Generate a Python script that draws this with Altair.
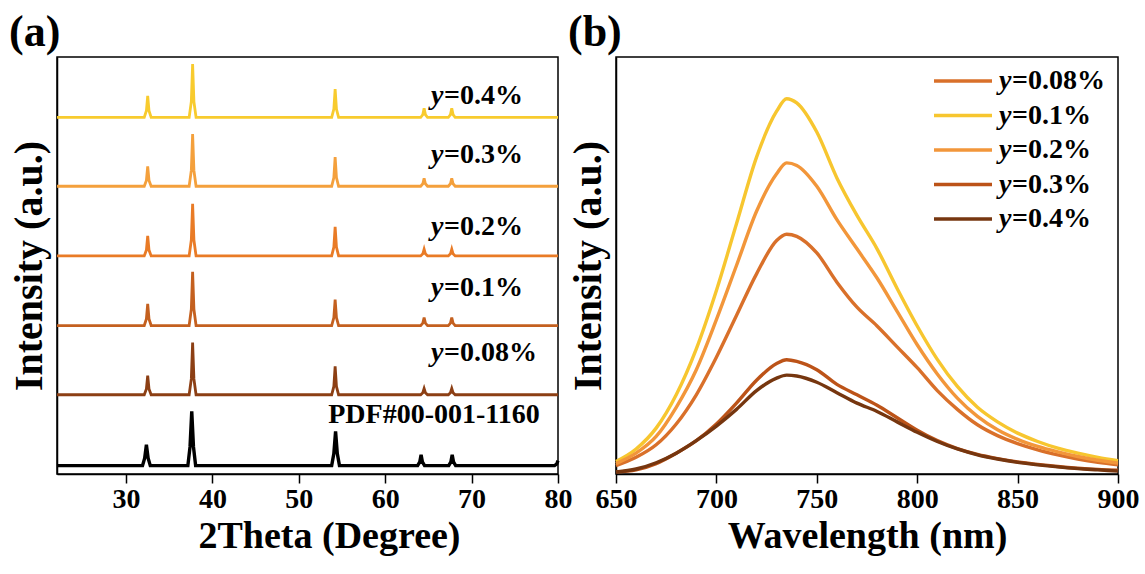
import altair as alt
import pandas as pd

FONT = "Liberation Serif"

# ---------------- (a) XRD patterns ----------------
xrd_series = ["0.08%", "0.1%", "0.2%", "0.3%", "0.4%"]
xrd_colors = ["#8C3F14", "#C4601F", "#E97B26", "#F4A03C", "#F8CB2E"]
# vertical stacking of each pattern (PDF card first, then samples)
pdf_offset = 2.0
xrd_offsets = [19.0, 35.6, 52.3, 69.0, 85.5]

two_theta = [22.0, 32.1, 32.35, 32.5, 32.65, 32.9, 37.3, 37.55, 37.7, 37.85, 38.1,
             53.8, 54.05, 54.2, 54.35, 54.6, 64.1, 64.35, 64.5, 64.65, 64.9,
             67.3, 67.55, 67.7, 67.85, 68.1, 80.0]
xrd_008 = [0, 0, 1.4, 4.6, 1.4, 0, 0, 3.8, 12.5, 3.8, 0, 0, 2.0, 6.8, 2.0, 0,
           0, 0.5, 1.5, 0.5, 0, 0, 0.5, 1.5, 0.5, 0, 0]
xrd_01 = [0, 0, 1.6, 5.2, 1.6, 0, 0, 3.9, 12.9, 3.9, 0, 0, 1.9, 6.2, 1.9, 0,
          0, 0.6, 1.9, 0.6, 0, 0, 0.6, 1.9, 0.6, 0, 0]
xrd_02 = [0, 0, 1.4, 4.8, 1.4, 0, 0, 3.8, 12.5, 3.8, 0, 0, 2.1, 7.0, 2.1, 0,
          0, 0.5, 1.6, 0.5, 0, 0, 0.5, 1.6, 0.5, 0, 0]
xrd_03 = [0, 0, 1.4, 4.8, 1.4, 0, 0, 3.8, 12.5, 3.8, 0, 0, 2.1, 7.0, 2.1, 0,
          0, 0.6, 1.9, 0.6, 0, 0, 0.6, 1.9, 0.6, 0, 0]
xrd_04 = [0, 0, 1.6, 5.2, 1.6, 0, 0, 3.8, 12.8, 3.8, 0, 0, 2.0, 6.8, 2.0, 0,
          0, 0.7, 2.2, 0.7, 0, 0, 0.7, 2.2, 0.7, 0, 0]

pdf_theta = [22.0, 31.9, 32.15, 32.35, 32.55, 32.8, 37.15, 37.4, 37.6, 37.8, 38.05,
             53.8, 54.05, 54.25, 54.45, 54.7, 63.75, 64.0, 64.15, 64.3, 64.55,
             67.35, 67.6, 67.75, 67.9, 68.15, 79.6, 79.85, 80.0]
pdf_int = [0, 0, 1.8, 5.0, 1.8, 0, 0, 4.5, 13.0, 4.5, 0, 0, 2.9, 8.2, 2.9, 0,
           0, 0.9, 2.6, 0.9, 0, 0, 0.9, 2.6, 0.9, 0, 0, 0.4, 1.2]

xrd_values = [xrd_008, xrd_01, xrd_02, xrd_03, xrd_04]
rows = []
for name, vals, off in zip(xrd_series, xrd_values, xrd_offsets):
    for t, v in zip(two_theta, vals):
        rows.append({"two_theta": t, "intensity": v + off, "sample": name})
xrd_df = pd.DataFrame(rows)
pdf_df = pd.DataFrame({"two_theta": pdf_theta,
                       "intensity": [v + pdf_offset for v in pdf_int]})

# label anchors beside each pattern
xrd_label_y = [28.9, 44.7, 59.3, 76.6, 90.7]
xrd_lab_df = pd.DataFrame({"two_theta": [65.3] * 5, "intensity": xrd_label_y,
                           "rest": ["=" + s for s in xrd_series]})
pdf_lab_df = pd.DataFrame({"two_theta": [53.4], "intensity": [14.1],
                           "text": ["PDF#00-001-1160"]})

xa = alt.X("two_theta:Q",
           scale=alt.Scale(domain=[22, 80], nice=False, zero=False),
           axis=alt.Axis(values=[30, 40, 50, 60, 70, 80], title="2Theta (Degree)",
                         labelFlush=False, titlePadding=4, titleX=272))
ya = alt.Y("intensity:Q", scale=alt.Scale(domain=[0, 100], nice=False),
           axis=alt.Axis(title="Intensity (a.u.)", labels=False, ticks=False,
                         titlePadding=8, titleFontSize=40))

xrd_lines = alt.Chart(xrd_df).mark_line(strokeWidth=2.8).encode(
    x=xa, y=ya,
    color=alt.Color("sample:N", scale=alt.Scale(domain=xrd_series, range=xrd_colors),
                    legend=None),
    detail="sample:N",
)
pdf_line = alt.Chart(pdf_df).mark_line(strokeWidth=3.4, color="black").encode(x=xa, y=ya)

lab_y = alt.Chart(xrd_lab_df).mark_text(
    text="y", font=FONT, fontSize=28, fontStyle="italic", fontWeight="bold",
    align="left", baseline="middle", color="black").encode(x=xa, y=ya)
lab_rest = alt.Chart(xrd_lab_df).mark_text(
    font=FONT, fontSize=28, fontWeight="bold", align="left", baseline="middle",
    dx=13, color="black").encode(x=xa, y=ya, text="rest:N")
lab_pdf = alt.Chart(pdf_lab_df).mark_text(
    font=FONT, fontSize=28, fontWeight="bold", align="left", baseline="middle",
    color="black").encode(x=xa, y=ya, text="text:N")

panel_a = alt.layer(xrd_lines, pdf_line, lab_y, lab_rest, lab_pdf).properties(
    width=501, height=417,
    title=alt.TitleParams("(a)", anchor="start", font=FONT, fontSize=44,
                          fontWeight="bold", color="black", offset=2),
)

# ---------------- (b) PL spectra ----------------
wavelength = [650, 660, 670, 680, 690, 700, 710, 720, 730, 735, 740, 750, 760, 770,
              780, 790, 800, 810, 820, 830, 840, 850, 860, 870, 880, 890, 900]
pl_008 = [0.02, 0.04, 0.07, 0.12, 0.19, 0.28, 0.38, 0.48, 0.56, 0.575, 0.57, 0.53,
          0.46, 0.40, 0.355, 0.305, 0.255, 0.20, 0.155, 0.118, 0.092, 0.073, 0.058,
          0.046, 0.036, 0.028, 0.022]
pl_01 = [0.03, 0.06, 0.11, 0.19, 0.30, 0.44, 0.60, 0.76, 0.87, 0.90, 0.89, 0.82,
         0.71, 0.62, 0.54, 0.445, 0.355, 0.275, 0.21, 0.16, 0.125, 0.098, 0.078,
         0.062, 0.05, 0.04, 0.032]
pl_02 = [0.025, 0.05, 0.09, 0.16, 0.25, 0.37, 0.50, 0.63, 0.72, 0.746, 0.74, 0.69,
         0.61, 0.54, 0.47, 0.39, 0.31, 0.24, 0.182, 0.138, 0.106, 0.083, 0.066,
         0.053, 0.042, 0.033, 0.026]
pl_03 = [0.005, 0.01, 0.025, 0.05, 0.08, 0.12, 0.17, 0.225, 0.265, 0.274, 0.27, 0.25,
         0.215, 0.19, 0.165, 0.135, 0.105, 0.08, 0.061, 0.047, 0.037, 0.029, 0.023,
         0.018, 0.014, 0.011, 0.009]
pl_04 = [0.005, 0.012, 0.027, 0.05, 0.08, 0.115, 0.155, 0.20, 0.23, 0.237, 0.235,
         0.22, 0.195, 0.17, 0.15, 0.125, 0.10, 0.078, 0.06, 0.046, 0.036, 0.028,
         0.022, 0.017, 0.013, 0.01, 0.007]

pl_series = ["0.08%", "0.1%", "0.2%", "0.3%", "0.4%"]
pl_colors = ["#D9702A", "#F7C62F", "#F2963A", "#BC5318", "#76360F"]
pl_values = [pl_008, pl_01, pl_02, pl_03, pl_04]

rows = []
for name, vals in zip(pl_series, pl_values):
    for w, v in zip(wavelength, vals):
        rows.append({"wavelength": w, "intensity": v, "dopant": name})
pl_df = pd.DataFrame(rows)

pl_color = alt.Color("dopant:N", scale=alt.Scale(domain=pl_series, range=pl_colors),
                     legend=None)
xb = alt.X("wavelength:Q", scale=alt.Scale(domain=[650, 900], nice=False, zero=False),
           axis=alt.Axis(values=[650, 700, 750, 800, 850, 900], title="Wavelength (nm)",
                         labelFlush=False, titlePadding=4))
yb = alt.Y("intensity:Q", scale=alt.Scale(domain=[0, 1], nice=False),
           axis=alt.Axis(title="Intensity (a.u.)", labels=False, ticks=False,
                         titlePadding=8, titleFontSize=40))

pl_lines = alt.Chart(pl_df).mark_line(strokeWidth=3.4, interpolate="monotone").encode(
    x=xb, y=yb, color=pl_color, detail="dopant:N")

# hand-drawn legend: coloured swatch + italic "y" + bold remainder
leg_df = pd.DataFrame({"dopant": pl_series, "rest": ["=" + s for s in pl_series]})
leg_y = alt.Y("dopant:N", sort=pl_series,
              scale=alt.Scale(type="point", range=[24, 162], padding=0), axis=None)
leg_lines = alt.Chart(leg_df).mark_rule(strokeWidth=3.4).encode(
    x=alt.value(318), x2=alt.value(376), y=leg_y, color=pl_color)
leg_ytxt = alt.Chart(leg_df).mark_text(
    text="y", font=FONT, fontSize=28, fontStyle="italic", fontWeight="bold",
    align="left", baseline="middle", color="black").encode(x=alt.value(383), y=leg_y)
leg_rest = alt.Chart(leg_df).mark_text(
    font=FONT, fontSize=28, fontWeight="bold", align="left", baseline="middle",
    dx=13, color="black").encode(x=alt.value(383), y=leg_y, text="rest:N")

panel_b = alt.layer(pl_lines, leg_lines, leg_ytxt, leg_rest).resolve_scale(
    y="independent").properties(
    width=502, height=417,
    title=alt.TitleParams("(b)", anchor="start", font=FONT, fontSize=44,
                          fontWeight="bold", color="black", offset=2),
)

chart = alt.hconcat(panel_a, panel_b, spacing=58, bounds="flush").resolve_scale(
    color="independent"
).properties(
    padding={"left": 8, "top": 10, "right": 5, "bottom": 5},
    background="white",
).configure_view(stroke="black", strokeWidth=1.5).configure_axis(
    domainColor="black", domainWidth=1.5, tickColor="black", tickWidth=1.5,
    tickSize=9, grid=False, labelFont=FONT, labelFontSize=28, labelFontWeight="bold",
    labelColor="black", labelPadding=2, titleFont=FONT, titleFontSize=38,
    titleFontWeight="bold", titleColor="black",
)

chart.save("out.html", embed_options={"renderer": "svg", "actions": False})
